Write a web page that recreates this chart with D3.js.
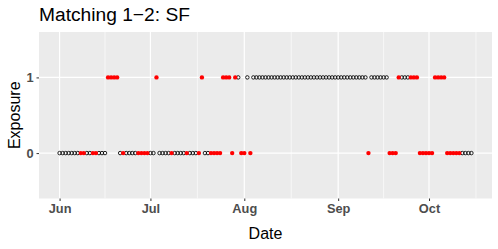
<!DOCTYPE html>
<html>
<head>
<meta charset="utf-8">
<script src="https://cdn.jsdelivr.net/npm/d3@7/dist/d3.min.js"></script>
<style>
    body { margin: 0; background: #fff; }
    svg text { font-family: "Liberation Sans", Arial, Helvetica, sans-serif; }
</style>
</head>
<body>
<svg id="chart" width="498" height="249"></svg>
<script>
// one value per day, starting Jun 1
var startDate = "2016-06-01";
var endDate = "2016-10-15";

// exposure (0/1) per day
var exposure = [
    0, 0, 0, 0, 0, 0, 0, 0, 0, 0, 0, 0, 0, 0, 0, 0,   // Jun 1-16
    1, 1, 1, 1,                                       // Jun 17-20
    0, 0, 0, 0, 0, 0, 0, 0, 0, 0, 0, 0,               // Jun 21 - Jul 2
    1,                                                // Jul 3
    0, 0, 0, 0, 0, 0, 0, 0, 0, 0, 0, 0, 0, 0,         // Jul 4-17
    1, 0, 0, 0, 0, 0, 0,                              // Jul 18-24
    1, 1, 1, 0, 1, 1, 0, 0, 1, 0,                     // Jul 25 - Aug 3
    1, 1, 1, 1, 1, 1, 1, 1, 1, 1, 1, 1, 1, 1, 1, 1, 1, 1, 1,
    1, 1, 1, 1, 1, 1, 1, 1, 1, 1, 1, 1, 1, 1, 1, 1, 1, 1, 1, // Aug 4 - Sep 10
    0,                                                // Sep 11
    1, 1, 1, 1, 1, 1,                                 // Sep 12-17
    0, 0, 0,                                          // Sep 18-20
    1, 1, 1, 1, 1, 1, 1,                              // Sep 21-27
    0, 0, 0, 0, 0,                                    // Sep 28 - Oct 2
    1, 1, 1, 1,                                       // Oct 3-6
    0, 0, 0, 0, 0, 0, 0, 0, 0                         // Oct 7-15
];

// 1 = red (mismatched day), 0 = open black circle
var mismatch = [
    0, 0, 0, 0, 0, 0, 0, 1, 1, 0, 0, 1, 1, 0, 0, 0,
    1, 1, 1, 1,
    0, 1, 0, 0, 0, 0, 1, 1, 1, 1, 0, 0,
    1,
    0, 0, 0, 0, 1, 0, 0, 0, 0, 1, 0, 0, 0, 1,
    1, 0, 0, 1, 1, 1, 1,
    1, 1, 1, 1, 1, 0, 1, 1, 0, 1,
    0, 0, 0, 0, 0, 0, 0, 0, 0, 0, 0, 0, 0, 0, 0, 0, 0, 0, 0,
    0, 0, 0, 0, 0, 0, 0, 0, 0, 0, 0, 0, 0, 0, 0, 0, 0, 0, 0,
    1,
    0, 0, 0, 0, 0, 0,
    1, 1, 1,
    1, 0, 0, 0, 1, 1, 1,
    1, 1, 1, 1, 1,
    1, 1, 1, 1,
    1, 1, 1, 1, 1, 0, 0, 0, 0
];

var yBreaks = [0, 1];
var titleText = "Matching 1\u22122: SF";
var xTitle = "Date";
var yTitle = "Exposure";

function draw_chart(svg_elem) {
    var svg = d3.select(svg_elem);
    var parse = d3.timeParse("%Y-%m-%d");
    var d0 = parse(startDate), d1 = parse(endDate);
    var days = d3.timeDay.range(d0, d3.timeDay.offset(d1, 1));

    var data = days.map(function (d, i) {
        return {date: d, value: exposure[i], red: mismatch[i]};
    });

    var panel = {left: 39, right: 492, top: 32, bottom: 198.5};

    // ggplot style 5% expansion
    var span = d1 - d0;
    var x = d3.scaleTime()
        .domain([new Date(+d0 - span * 0.05), new Date(+d1 + span * 0.05)])
        .range([panel.left, panel.right]);
    var y = d3.scaleLinear()
        .domain([-0.6, 1.6])
        .range([panel.bottom, panel.top]);

    svg.append("rect")
        .attr("x", panel.left).attr("y", panel.top)
        .attr("width", panel.right - panel.left)
        .attr("height", panel.bottom - panel.top)
        .attr("fill", "#EBEBEB");

    var majors = d3.timeMonth.range(d3.timeMonth.floor(x.domain()[0]), x.domain()[1])
        .filter(function (d) { return d >= x.domain()[0]; });
    var allMonths = d3.timeMonth.range(d3.timeMonth.offset(majors[0], -1), d3.timeMonth.offset(majors[majors.length - 1], 2));
    var minors = [];
    for (var i = 0; i < allMonths.length - 1; i++) {
        var mid = new Date((+allMonths[i] + +allMonths[i + 1]) / 2);
        if (mid > x.domain()[0] && mid < x.domain()[1]) minors.push(mid);
    }

    var grid = svg.append("g");
    grid.selectAll(".minor").data(minors).enter().append("line")
        .attr("x1", function (d) { return x(d); })
        .attr("x2", function (d) { return x(d); })
        .attr("y1", panel.top).attr("y2", panel.bottom)
        .attr("stroke", "#fff").attr("stroke-width", 0.6);
    grid.selectAll(".majx").data(majors).enter().append("line")
        .attr("x1", function (d) { return x(d); })
        .attr("x2", function (d) { return x(d); })
        .attr("y1", panel.top).attr("y2", panel.bottom)
        .attr("stroke", "#fff").attr("stroke-width", 1.2);
    grid.selectAll(".majy").data(yBreaks).enter().append("line")
        .attr("x1", panel.left).attr("x2", panel.right)
        .attr("y1", function (d) { return y(d); })
        .attr("y2", function (d) { return y(d); })
        .attr("stroke", "#fff").attr("stroke-width", 1.2);

    // points: open black first, red on top
    svg.append("g").selectAll("circle")
        .data(data.filter(function (d) { return !d.red; }))
        .enter().append("circle")
        .attr("cx", function (d) { return x(d.date); })
        .attr("cy", function (d) { return y(d.value); })
        .attr("r", 1.75)
        .attr("fill", "none")
        .attr("stroke", "#000")
        .attr("stroke-width", 0.85);

    svg.append("g").selectAll("circle")
        .data(data.filter(function (d) { return d.red; }))
        .enter().append("circle")
        .attr("cx", function (d) { return x(d.date); })
        .attr("cy", function (d) { return y(d.value); })
        .attr("r", 2.2)
        .attr("fill", "#FF0000");

    // axes
    var xAxis = d3.axisBottom(x)
        .tickValues(majors)
        .tickFormat(d3.timeFormat("%b"))
        .tickSize(2.5)
        .tickPadding(3);
    var gx = svg.append("g")
        .attr("transform", "translate(0," + panel.bottom + ")")
        .call(xAxis);

    var yAxis = d3.axisLeft(y)
        .tickValues(yBreaks)
        .tickFormat(d3.format("d"))
        .tickSize(2.5)
        .tickPadding(3);
    var gy = svg.append("g")
        .attr("transform", "translate(" + panel.left + ",0)")
        .call(yAxis);

    [gx, gy].forEach(function (g) {
        g.select(".domain").remove();
        g.selectAll(".tick line").attr("stroke", "#333333");
        g.selectAll(".tick text")
            .attr("fill", "#4D4D4D")
            .style("font-size", "12.8px")
            .style("font-weight", "bold");
    });

    svg.append("text")
        .attr("x", (panel.left + panel.right) / 2)
        .attr("y", 239)
        .attr("text-anchor", "middle")
        .style("font-size", "16px")
        .text(xTitle);

    svg.append("text")
        .attr("transform", "translate(20," + ((panel.top + panel.bottom) / 2) + ") rotate(-90)")
        .attr("text-anchor", "middle")
        .style("font-size", "16px")
        .text(yTitle);

    svg.append("text")
        .attr("x", panel.left)
        .attr("y", 20.5)
        .style("font-size", "19.2px")
        .text(titleText);
}

draw_chart("#chart");
</script>
</body>
</html>
